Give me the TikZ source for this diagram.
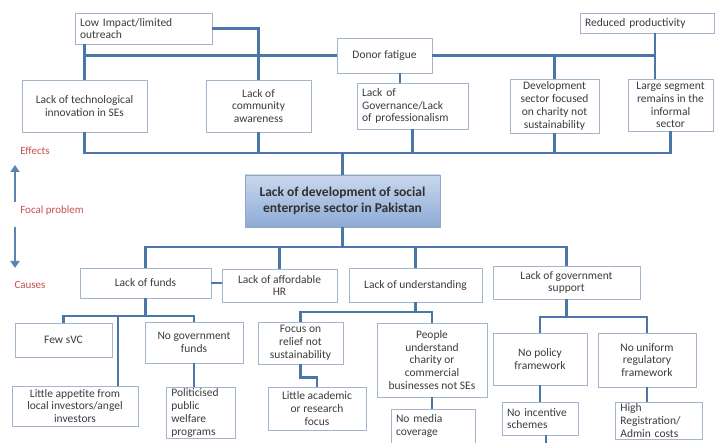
\documentclass[tikz,border=0pt]{standalone}
\usepackage{fontspec}
\setmainfont{Carlito}
\usetikzlibrary{arrows.meta}
\definecolor{linec}{HTML}{4A76A8}
\definecolor{boxc}{HTML}{A3B5CA}
\definecolor{txtc}{HTML}{3C3C3C}
\definecolor{redc}{HTML}{C9504F}
\definecolor{focT}{HTML}{C9D8EE}
\definecolor{focB}{HTML}{8DAAD6}
\definecolor{arrc}{HTML}{5B84B1}
\begin{document}
\begin{tikzpicture}[x=1pt,y=-1pt,
  bx/.style={draw=boxc, line width=0.7pt, fill=white, text=txtc,
    font=\fontsize{11.5}{12.8}\selectfont, align=center, inner sep=2pt},
  lb/.style={bx, align=left, inner xsep=5pt},
  focalbox/.style={draw=boxc!80!linec, line width=0.7pt, top color=focT, bottom color=focB,
    text=txtc!80!black, font=\bfseries\fontsize{13.5}{16}\selectfont, align=center},
  conn/.style={draw=linec, line width=2.4pt},
  side/.style={text=redc, font=\fontsize{11}{13}\selectfont},
  bigarrow/.style={draw=arrc, line width=2.6pt, -{Triangle[width=9pt,length=7pt]}}]
\useasboundingbox (0,0) rectangle (719,443);
\clip (0,0) rectangle (719,443);
\fill[white] (0,0) rectangle (719,443);

% effects
\node[lb, minimum width=137, text width=127, minimum height=31] (low) at (143.5,28.5) {Low Impact/limited\\outreach};
\node[lb, minimum width=134, text width=124, minimum height=20] (red) at (647,23) {Reduced productivity};
\node[bx, minimum width=95, minimum height=35] (donor) at (384.5,55.5) {Donor fatigue};
\node[bx, minimum width=125, minimum height=52] (tech) at (84.5,106) {Lack of technological\\innovation in SEs};
\node[bx, minimum width=105, minimum height=52] (comm) at (258.5,106) {Lack of\\community\\awareness};
\node[lb, minimum width=111, text width=101, minimum height=46] (gov) at (412.5,106) {Lack of\\Governance/Lack\\of professionalism};
\node[bx, minimum width=89, minimum height=54] (dev) at (554.5,106) {Development\\sector focused\\on charity not\\sustainability};
\node[bx, minimum width=85, minimum height=52] (large) at (670.5,105) {Large segment\\remains in the\\informal\\sector};

% focal
\node[focalbox, minimum width=195, minimum height=52] (focal) at (342.5,201) {Lack of development of social\\enterprise sector in Pakistan};

% causes
\node[bx, minimum width=131, minimum height=30] (funds) at (145.5,283) {Lack of funds};
\node[bx, minimum width=115, minimum height=33] (hr) at (279.5,285.5) {Lack of affordable\\HR};
\node[bx, minimum width=133, minimum height=34] (und) at (415.5,285) {Lack of understanding};
\node[bx, minimum width=147, minimum height=33] (govsup) at (566.5,282.5) {Lack of government\\support};

\node[bx, minimum width=97, minimum height=34] (few) at (63.5,340) {Few sVC};
\node[bx, minimum width=126, minimum height=40] (app) at (75,406) {Little appetite from\\local investors/angel\\investors};
\node[bx, minimum width=98, minimum height=41] (nogov) at (194,342.5) {No government\\funds};
\node[lb, anchor=north west, minimum width=69, text width=59, inner ysep=1.5pt] (pol) at (166,387) {Politicised\\public\\welfare\\programs};
\node[bx, minimum width=85, minimum height=42] (focus) at (300.5,343) {Focus on\\relief not\\sustainability};
\node[bx, minimum width=98, minimum height=43] (acad) at (317,408.5) {Little academic\\or research\\focus};
\node[bx, minimum width=110, minimum height=74] (people) at (432,360) {People\\understand\\charity or\\commercial\\businesses not SEs};
\node[lb, minimum width=84, text width=74, minimum height=34] (media) at (433,426) {No media\\coverage};
\node[bx, minimum width=94, minimum height=52] (policy) at (540,359) {No policy\\framework};
\node[bx, minimum width=98, minimum height=54] (uniform) at (647,360) {No uniform\\regulatory\\framework};
\node[lb, minimum width=76, text width=66, minimum height=33] (incent) at (540,418.5) {No incentive\\schemes};
\node[lb, anchor=north west, minimum width=87, text width=77, inner ysep=1.5pt] (high) at (615,402) {High\\Registration/\\Admin costs};

% side labels
\node[side] (effl) at (35,151) {Effects};
\node[side] (focl) at (52,211) {Focal problem};
\node[side] (caul) at (30,285) {Causes};
\coordinate (ua) at (15,202);
\coordinate (ub) at (15,165);
\coordinate (da) at (15,227);
\coordinate (db) at (15,268);
\draw[bigarrow] (ua) -- (ub);
\draw[bigarrow] (da) -- (db);

% helper coordinates
\coordinate (rv) at (655,0);
\coordinate (dg) at (400,0);
\coordinate (eff) at (342.5,153);
\coordinate (cau) at (342.5,247);
\coordinate (fc) at (145.5,316);
\coordinate (ap) at (118,316);
\coordinate (uc) at (415.5,312);
\coordinate (gc) at (566.5,317);
\coordinate (offb) at (546,460);

% effect connectors
\draw[conn] (tech.north) -- (tech.north |- low.south);
\draw[conn] (low.east) -| (comm.north);
\draw[conn] (donor.west) -- (tech.north |- donor.west);
\draw[conn] (donor.east) -- (rv |- donor.east);
\draw[conn] (rv |- red.south) -- (rv |- large.north);
\draw[conn] (dev.north) -- (dev.north |- donor.east);
\draw[conn] (dg |- donor.south) -- (dg |- gov.north);
\draw[conn] (tech.south) |- (eff) -| (large.south);
\draw[conn] (comm.south) -- (comm.south |- eff);
\draw[conn] (gov.south) -- (gov.south |- eff);
\draw[conn] (dev.south) -- (dev.south |- eff);
\draw[conn] (focal.north) -- (eff);

% cause connectors
\draw[conn] (focal.south) -- (cau);
\draw[conn] (funds.north) |- (cau) -| (govsup.north);
\draw[conn] (hr.north) -- (hr.north |- cau);
\draw[conn] (und.north) -- (und.north |- cau);
\draw[conn] (funds.east) -- (hr.west |- funds.east);

\draw[conn] (funds.south) -- (fc);
\draw[conn] (few.north) |- (fc) -| (nogov.north);
\draw[conn] (ap) -- (ap |- app.north);
\draw[conn] (nogov.south) -- (nogov.south |- pol.north);

\draw[conn] (und.south) -- (uc);
\draw[conn] (focus.north) |- (uc) -| (people.north);
\draw[conn] (focus.south) -- ++(0,13) -| (acad.north);
\draw[conn] (people.south) -- (people.south |- media.north);

\draw[conn] (govsup.south) -- (gc);
\draw[conn] (policy.north) |- (gc) -| (uniform.north);
\draw[conn] (policy.south) -- (incent.north);
\draw[conn] (uniform.south) -- (uniform.south |- high.north);
\draw[conn] (offb |- incent.south) -- (offb);
\end{tikzpicture}
\end{document}
